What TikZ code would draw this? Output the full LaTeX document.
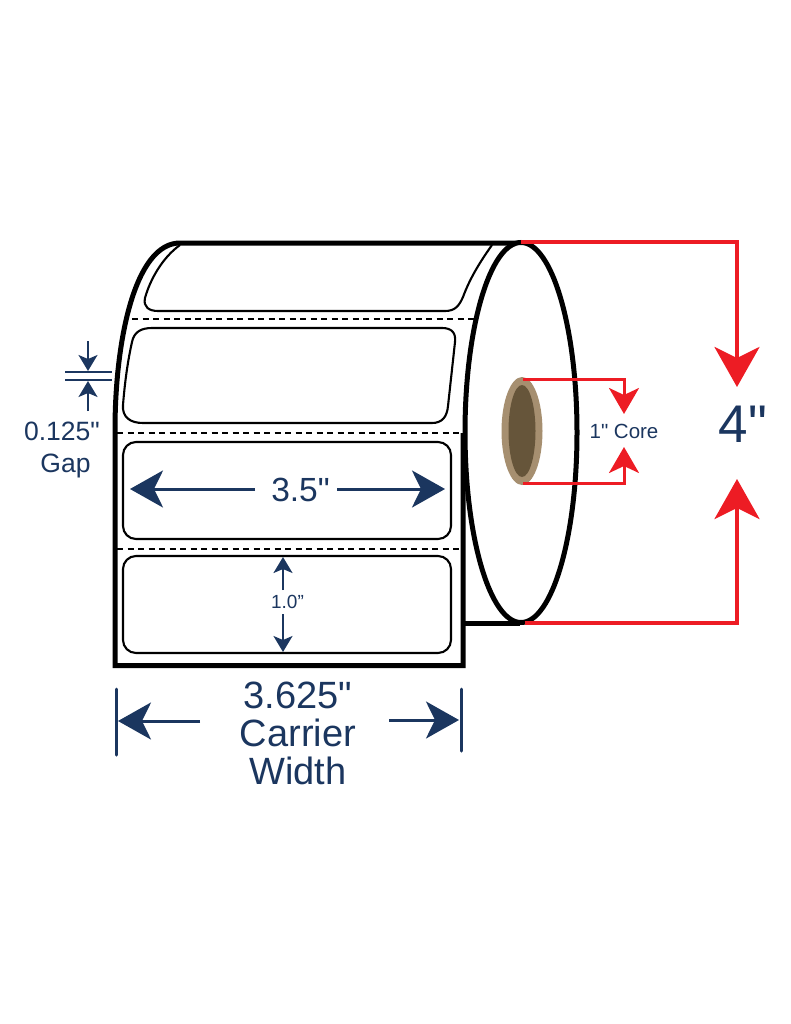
\documentclass[tikz,border=0pt]{standalone}
\usepackage{fontspec}
\setmainfont{Liberation Sans}[Ligatures=TeXOff]
\usetikzlibrary{arrows.meta,shapes.geometric}
\definecolor{navy}{HTML}{1B365F}
\definecolor{redline}{HTML}{ED1C24}
\definecolor{coreout}{HTML}{A68F70}
\definecolor{corein}{HTML}{66553A}
\begin{document}
\begin{tikzpicture}[
  x=1pt, y=-1pt,
  outline/.style={draw=black, line width=5pt, line join=miter},
  labelline/.style={draw=black, line width=2.1pt},
  labelbox/.style={rectangle, labelline, rounded corners=13pt, inner sep=0pt, minimum width=328pt, minimum height=97pt},
  perf/.style={draw=black, line width=2pt, dash pattern=on 6pt off 4.5pt},
  redarrow/.style={draw=redline, line width=3.8pt, line join=miter, -{Stealth[length=40pt,width=45pt,inset=11pt]}},
  redsmall/.style={draw=redline, line width=3pt, line join=miter, -{Stealth[length=26pt,width=30pt,inset=7pt]}},
  bluebig/.style={draw=navy, line width=3pt, -{Stealth[length=33pt,width=37pt,inset=9pt]}},
  bluesmall/.style={draw=navy, line width=1.8pt, -{Stealth[length=16pt,width=19pt,inset=4pt]}},
  dimtext/.style={text=navy, inner sep=0pt, align=center}
]
\useasboundingbox (0,0) rectangle (791,1024);

% Roll body
\fill[white] (115,665) -- (115,430) .. controls (115,340) and (135,243) .. (180,243) -- (520,243) -- (520,623) -- (463,623) -- (463,665) -- cycle;
\draw[outline] (520,243) -- (180,243) .. controls (135,243) and (115,340) .. (115,430) -- (115,665.5) -- (463,665.5) -- (463,433);
\draw[outline] (463,623) -- (520,623);

% Labels
\draw[labelline] (180,245) .. controls (162,258) and (150,280) .. (145,298) .. controls (143,307) and (149,311) .. (158,311) -- (445,311) .. controls (455,311) and (459,306) .. (463,297) .. controls (470,278) and (480,262) .. (492,245);
\draw[labelline] (152,328) -- (442,328) .. controls (452,328) and (456,333) .. (455,342) -- (448,406) .. controls (447,417) and (442,423) .. (432,423) -- (143,423) .. controls (130,423) and (122,417) .. (123,405) .. controls (125,380) and (128,360) .. (132,342) .. controls (134,332) and (141,328) .. (152,328) -- cycle;
\node[labelbox] (label3) at (287,490.5) {};
\node[labelbox] (label4) at (287,604.5) {};
\draw[perf] (132,319) -- (474,319);
\draw[perf] (117,433) -- (461,433);
\draw[perf] (117,549) -- (461,549);

% Roll side and core
\node[ellipse, draw=black, line width=5pt, fill=white, inner sep=0pt, minimum width=112pt, minimum height=380pt] (roll) at (521,432.5) {};
\node[ellipse, fill=coreout, inner sep=0pt, minimum width=41pt, minimum height=108pt] (coreouter) at (522,431) {};
\node[ellipse, fill=corein, inner sep=0pt, minimum width=27pt, minimum height=92pt] (coreinner) at (522,431) {};

% Text
\node[dimtext, font=\fontsize{53}{56}\selectfont] (rollsize) at (743,424) {4"};
\node[dimtext, font=\fontsize{20.5}{22}\selectfont] (coresize) at (624,431) {1" Core};
\node[dimtext, font=\fontsize{33.5}{36}\selectfont] (labelwidth) at (300.5,490) {3.5"};
\node[dimtext, font=\fontsize{19}{20}\selectfont] (labelheight) at (287.5,602) {1.0”};
\node[dimtext, font=\fontsize{26.5}{30}\selectfont] (gapsize) at (62,431) {0.125"};
\node[dimtext, font=\fontsize{26.5}{30}\selectfont] (gaplabel) at (65.5,466) {Gap};
\node[dimtext, font=\fontsize{38}{38}\selectfont] (carrier) at (298,733) {3.625"\\Carrier\\Width};

% Coordinates
\coordinate (rolltop) at (521,242);
\coordinate (rollbot) at (525,623);
\coordinate (tipdown) at (737,387);
\coordinate (tipup) at (737,479);
\coordinate (coretop) at (523,379);
\coordinate (corebot) at (523,483);
\coordinate (coredown) at (624,414);
\coordinate (coreup) at (624,447);
\coordinate (widthl) at (130,489);
\coordinate (widthr) at (445,489);
\coordinate (stripl) at (255,489);
\coordinate (stripr) at (337,489);
\coordinate (carl) at (118,721);
\coordinate (carr) at (459,720);
\coordinate (carlend) at (200,721);
\coordinate (carrend) at (389,720);

% Arrows
\draw[redarrow] (rolltop) -| (tipdown);
\draw[redarrow] (rollbot) -| (tipup);
\draw[redsmall] (coretop) -| (coredown);
\draw[redsmall] (corebot) -| (coreup);
\draw[bluebig] (stripl) -- (widthl);
\draw[bluebig] (stripr) -- (widthr);
\draw[bluebig] (carlend) -- (carl);
\draw[bluebig] (carrend) -- (carr);
\draw[bluesmall] (283,590) coordinate (hta) -- (283,557) coordinate (htb);
\draw[bluesmall] (283,614) coordinate (htc) -- (283,652) coordinate (htd);

% Carrier end bars
\draw[navy, line width=3pt, line cap=round] (116,689) coordinate (barla) -- (116,755) coordinate (barlb);
\draw[navy, line width=3pt, line cap=round] (461,689) coordinate (barra) -- (461,751) coordinate (barrb);

% Gap marks
\draw[navy, line width=2pt] (65,372) coordinate (gapa) -- (112,372) coordinate (gapb);
\draw[navy, line width=2pt] (65,379.5) coordinate (gapc) -- (112,379.5) coordinate (gapd);
\draw[bluesmall] (88,341) coordinate (gape) -- (88,371) coordinate (gapf);
\draw[bluesmall] (88,411) coordinate (gapg) -- (88,381) coordinate (gaph);
\end{tikzpicture}
\end{document}
